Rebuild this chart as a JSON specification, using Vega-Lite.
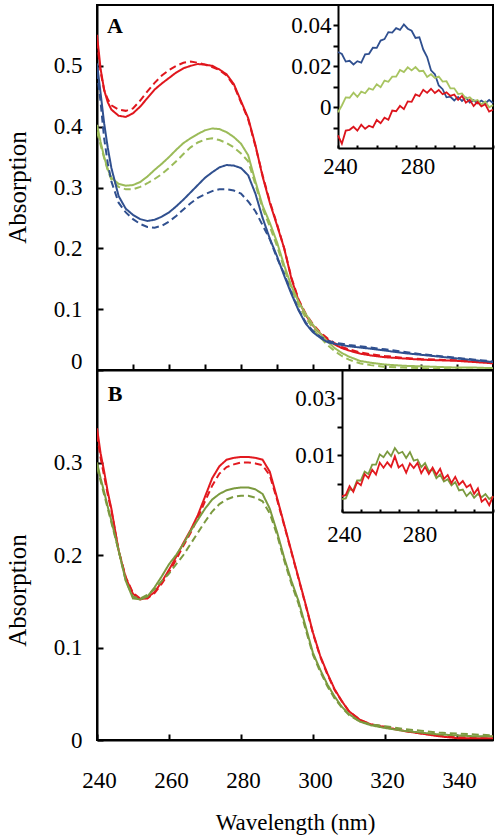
{
  "$schema": "https://vega.github.io/schema/vega-lite/v6.json",
  "autosize": "none",
  "padding": {"left": 97, "top": 5, "right": 403, "bottom": 833},
  "config": {
    "font": "Liberation Serif",
    "view": {"stroke": "black", "strokeWidth": 2},
    "axis": {"domainColor": "black", "domainWidth": 2, "tickColor": "black", "tickWidth": 2, "labelColor": "black", "titleColor": "black", "grid": false, "titleFontWeight": "normal", "labelFontSize": 23, "labelFont": "Liberation Serif", "titleFont": "Liberation Serif"}
  },
  "datasets": {
    "topMain": [
      {"w":240,"rs":0.551,"rd":0.54,"gs":0.403,"gd":0.392,"bs":0.504,"bd":0.49},
      {"w":241,"rs":0.495,"rd":0.49,"gs":0.375,"gd":0.37,"bs":0.455,"bd":0.44},
      {"w":242,"rs":0.46,"rd":0.46,"gs":0.35,"gd":0.348,"bs":0.405,"bd":0.38},
      {"w":243,"rs":0.44,"rd":0.445,"gs":0.33,"gd":0.328,"bs":0.365,"bd":0.34},
      {"w":244,"rs":0.428,"rd":0.435,"gs":0.316,"gd":0.313,"bs":0.332,"bd":0.31},
      {"w":246,"rs":0.418,"rd":0.428,"gs":0.306,"gd":0.301,"bs":0.286,"bd":0.275},
      {"w":248,"rs":0.416,"rd":0.426,"gs":0.303,"gd":0.297,"bs":0.265,"bd":0.259},
      {"w":250,"rs":0.422,"rd":0.43,"gs":0.304,"gd":0.297,"bs":0.255,"bd":0.248},
      {"w":252,"rs":0.433,"rd":0.443,"gs":0.309,"gd":0.301,"bs":0.248,"bd":0.24},
      {"w":254,"rs":0.447,"rd":0.458,"gs":0.318,"gd":0.307,"bs":0.245,"bd":0.235},
      {"w":256,"rs":0.461,"rd":0.472,"gs":0.329,"gd":0.314,"bs":0.247,"bd":0.234},
      {"w":258,"rs":0.471,"rd":0.484,"gs":0.339,"gd":0.322,"bs":0.252,"bd":0.237},
      {"w":260,"rs":0.48,"rd":0.493,"gs":0.35,"gd":0.332,"bs":0.259,"bd":0.244},
      {"w":262,"rs":0.489,"rd":0.5,"gs":0.362,"gd":0.343,"bs":0.269,"bd":0.253},
      {"w":264,"rs":0.496,"rd":0.505,"gs":0.373,"gd":0.355,"bs":0.28,"bd":0.264},
      {"w":266,"rs":0.5,"rd":0.507,"gs":0.381,"gd":0.366,"bs":0.292,"bd":0.274},
      {"w":268,"rs":0.503,"rd":0.505,"gs":0.388,"gd":0.374,"bs":0.304,"bd":0.283},
      {"w":270,"rs":0.502,"rd":0.502,"gs":0.394,"gd":0.379,"bs":0.316,"bd":0.289},
      {"w":272,"rs":0.5,"rd":0.498,"gs":0.397,"gd":0.381,"bs":0.325,"bd":0.294},
      {"w":274,"rs":0.494,"rd":0.493,"gs":0.396,"gd":0.378,"bs":0.333,"bd":0.297},
      {"w":276,"rs":0.486,"rd":0.484,"gs":0.391,"gd":0.373,"bs":0.337,"bd":0.297},
      {"w":278,"rs":0.47,"rd":0.468,"gs":0.383,"gd":0.366,"bs":0.336,"bd":0.295},
      {"w":280,"rs":0.442,"rd":0.44,"gs":0.372,"gd":0.356,"bs":0.332,"bd":0.29},
      {"w":282,"rs":0.414,"rd":0.412,"gs":0.353,"gd":0.343,"bs":0.32,"bd":0.277},
      {"w":284,"rs":0.37,"rd":0.368,"gs":0.31,"gd":0.305,"bs":0.29,"bd":0.261},
      {"w":286,"rs":0.318,"rd":0.32,"gs":0.27,"gd":0.266,"bs":0.25,"bd":0.238},
      {"w":288,"rs":0.275,"rd":0.277,"gs":0.242,"gd":0.236,"bs":0.216,"bd":0.215},
      {"w":290,"rs":0.238,"rd":0.24,"gs":0.21,"gd":0.204,"bs":0.187,"bd":0.184},
      {"w":292,"rs":0.2,"rd":0.2,"gs":0.172,"gd":0.167,"bs":0.155,"bd":0.158},
      {"w":294,"rs":0.15,"rd":0.152,"gs":0.138,"gd":0.133,"bs":0.125,"bd":0.127},
      {"w":296,"rs":0.114,"rd":0.116,"gs":0.112,"gd":0.106,"bs":0.098,"bd":0.099},
      {"w":298,"rs":0.09,"rd":0.092,"gs":0.092,"gd":0.086,"bs":0.076,"bd":0.078},
      {"w":300,"rs":0.073,"rd":0.075,"gs":0.074,"gd":0.068,"bs":0.062,"bd":0.064},
      {"w":302,"rs":0.06,"rd":0.062,"gs":0.06,"gd":0.054,"bs":0.053,"bd":0.055},
      {"w":304,"rs":0.05,"rd":0.052,"gs":0.047,"gd":0.041,"bs":0.046,"bd":0.048},
      {"w":306,"rs":0.042,"rd":0.044,"gs":0.036,"gd":0.031,"bs":0.043,"bd":0.045},
      {"w":308,"rs":0.036,"rd":0.038,"gs":0.028,"gd":0.023,"bs":0.041,"bd":0.043},
      {"w":310,"rs":0.032,"rd":0.034,"gs":0.022,"gd":0.017,"bs":0.039,"bd":0.041},
      {"w":313,"rs":0.027,"rd":0.029,"gs":0.015,"gd":0.011,"bs":0.037,"bd":0.039},
      {"w":316,"rs":0.024,"rd":0.026,"gs":0.012,"gd":0.008,"bs":0.035,"bd":0.037},
      {"w":320,"rs":0.021,"rd":0.023,"gs":0.009,"gd":0.005,"bs":0.032,"bd":0.034},
      {"w":325,"rs":0.019,"rd":0.02,"gs":0.007,"gd":0.004,"bs":0.028,"bd":0.03},
      {"w":330,"rs":0.017,"rd":0.018,"gs":0.006,"gd":0.003,"bs":0.025,"bd":0.026},
      {"w":335,"rs":0.016,"rd":0.017,"gs":0.005,"gd":0.002,"bs":0.022,"bd":0.023},
      {"w":340,"rs":0.015,"rd":0.016,"gs":0.004,"gd":0.001,"bs":0.019,"bd":0.02},
      {"w":345,"rs":0.013,"rd":0.015,"gs":0.004,"gd":0.001,"bs":0.016,"bd":0.017},
      {"w":350,"rs":0.011,"rd":0.013,"gs":0.003,"gd":0.0,"bs":0.013,"bd":0.014}
    ],
    "topInset": [
      {"w":240,"b":0.027,"g":-0.0025,"r":-0.0138},
      {"w":242,"b":0.026,"g":0.0008,"r":-0.0179},
      {"w":244,"b":0.0223,"g":0.0048,"r":-0.0115},
      {"w":246,"b":0.0227,"g":0.0046,"r":-0.0111},
      {"w":248,"b":0.0209,"g":0.0071,"r":-0.0096},
      {"w":250,"b":0.0225,"g":0.005,"r":-0.0115},
      {"w":252,"b":0.0218,"g":0.0076,"r":-0.0086},
      {"w":254,"b":0.0258,"g":0.0068,"r":-0.0106},
      {"w":256,"b":0.0261,"g":0.0092,"r":-0.0091},
      {"w":258,"b":0.0291,"g":0.0085,"r":-0.0099},
      {"w":260,"b":0.029,"g":0.0112,"r":-0.0063},
      {"w":262,"b":0.0326,"g":0.0098,"r":-0.0079},
      {"w":264,"b":0.0333,"g":0.013,"r":-0.0052},
      {"w":266,"b":0.0367,"g":0.0124,"r":-0.0062},
      {"w":268,"b":0.0365,"g":0.0149,"r":-0.0017},
      {"w":270,"b":0.0387,"g":0.0149,"r":-0.002},
      {"w":272,"b":0.0378,"g":0.0182,"r":0.0006},
      {"w":274,"b":0.0405,"g":0.0172,"r":-0.001},
      {"w":276,"b":0.0384,"g":0.0195,"r":0.0028},
      {"w":278,"b":0.0374,"g":0.018,"r":0.0026},
      {"w":280,"b":0.0339,"g":0.0196,"r":0.0062},
      {"w":282,"b":0.0342,"g":0.0176,"r":0.0054},
      {"w":284,"b":0.0282,"g":0.0178,"r":0.0085},
      {"w":286,"b":0.0245,"g":0.0148,"r":0.007},
      {"w":288,"b":0.018,"g":0.0161,"r":0.009},
      {"w":290,"b":0.0161,"g":0.0143,"r":0.0069},
      {"w":292,"b":0.0106,"g":0.015,"r":0.0084},
      {"w":294,"b":0.0088,"g":0.0125,"r":0.0063},
      {"w":296,"b":0.0048,"g":0.0127,"r":0.0072},
      {"w":298,"b":0.0051,"g":0.0092,"r":0.0055},
      {"w":300,"b":0.0033,"g":0.0092,"r":0.0062},
      {"w":302,"b":0.005,"g":0.0064,"r":0.0036},
      {"w":304,"b":0.003,"g":0.0067,"r":0.0055},
      {"w":306,"b":0.0047,"g":0.0042,"r":0.0022},
      {"w":308,"b":0.0022,"g":0.0048,"r":0.0036},
      {"w":310,"b":0.0034,"g":0.003,"r":0.0005},
      {"w":312,"b":0.0019,"g":0.0035,"r":0.0026},
      {"w":314,"b":0.0032,"g":0.0013,"r":0.0004},
      {"w":316,"b":0.0019,"g":0.0027,"r":0.0014},
      {"w":318,"b":0.0035,"g":-0.0001,"r":-0.0022},
      {"w":320,"b":0.002,"g":0.001,"r":-0.0013}
    ],
    "botMain": [
      {"w":240,"rs":0.337,"rd":0.33,"gs":0.3,"gd":0.295},
      {"w":241,"rs":0.31,"rd":0.305,"gs":0.283,"gd":0.28},
      {"w":242,"rs":0.29,"rd":0.285,"gs":0.268,"gd":0.265},
      {"w":243,"rs":0.268,"rd":0.265,"gs":0.252,"gd":0.25},
      {"w":244,"rs":0.25,"rd":0.248,"gs":0.237,"gd":0.235},
      {"w":246,"rs":0.205,"rd":0.205,"gs":0.205,"gd":0.205},
      {"w":248,"rs":0.175,"rd":0.176,"gs":0.172,"gd":0.172},
      {"w":250,"rs":0.158,"rd":0.159,"gs":0.153,"gd":0.155},
      {"w":252,"rs":0.152,"rd":0.153,"gs":0.152,"gd":0.153},
      {"w":254,"rs":0.154,"rd":0.153,"gs":0.155,"gd":0.157},
      {"w":256,"rs":0.16,"rd":0.159,"gs":0.165,"gd":0.163},
      {"w":258,"rs":0.171,"rd":0.169,"gs":0.177,"gd":0.172},
      {"w":260,"rs":0.184,"rd":0.181,"gs":0.19,"gd":0.18},
      {"w":262,"rs":0.198,"rd":0.195,"gs":0.2,"gd":0.19},
      {"w":264,"rs":0.213,"rd":0.21,"gs":0.212,"gd":0.2},
      {"w":266,"rs":0.227,"rd":0.224,"gs":0.226,"gd":0.212},
      {"w":268,"rs":0.243,"rd":0.24,"gs":0.238,"gd":0.224},
      {"w":270,"rs":0.263,"rd":0.258,"gs":0.25,"gd":0.236},
      {"w":272,"rs":0.283,"rd":0.275,"gs":0.26,"gd":0.247},
      {"w":274,"rs":0.296,"rd":0.288,"gs":0.266,"gd":0.255},
      {"w":276,"rs":0.303,"rd":0.295,"gs":0.27,"gd":0.26},
      {"w":278,"rs":0.305,"rd":0.298,"gs":0.272,"gd":0.263},
      {"w":280,"rs":0.306,"rd":0.3,"gs":0.273,"gd":0.264},
      {"w":282,"rs":0.306,"rd":0.3,"gs":0.273,"gd":0.264},
      {"w":284,"rs":0.305,"rd":0.299,"gs":0.271,"gd":0.262},
      {"w":286,"rs":0.303,"rd":0.297,"gs":0.266,"gd":0.258},
      {"w":288,"rs":0.29,"rd":0.286,"gs":0.25,"gd":0.245},
      {"w":290,"rs":0.262,"rd":0.26,"gs":0.225,"gd":0.222},
      {"w":292,"rs":0.233,"rd":0.232,"gs":0.197,"gd":0.194},
      {"w":294,"rs":0.204,"rd":0.203,"gs":0.172,"gd":0.169},
      {"w":296,"rs":0.175,"rd":0.174,"gs":0.15,"gd":0.147},
      {"w":298,"rs":0.146,"rd":0.145,"gs":0.122,"gd":0.119},
      {"w":300,"rs":0.116,"rd":0.115,"gs":0.094,"gd":0.092},
      {"w":302,"rs":0.091,"rd":0.09,"gs":0.076,"gd":0.074},
      {"w":304,"rs":0.072,"rd":0.071,"gs":0.06,"gd":0.058},
      {"w":306,"rs":0.055,"rd":0.054,"gs":0.047,"gd":0.045},
      {"w":308,"rs":0.042,"rd":0.042,"gs":0.036,"gd":0.035},
      {"w":310,"rs":0.031,"rd":0.031,"gs":0.028,"gd":0.027},
      {"w":313,"rs":0.022,"rd":0.022,"gs":0.02,"gd":0.02},
      {"w":316,"rs":0.017,"rd":0.017,"gs":0.016,"gd":0.017},
      {"w":320,"rs":0.014,"rd":0.014,"gs":0.013,"gd":0.015},
      {"w":325,"rs":0.01,"rd":0.01,"gs":0.01,"gd":0.012},
      {"w":330,"rs":0.007,"rd":0.007,"gs":0.008,"gd":0.01},
      {"w":335,"rs":0.004,"rd":0.005,"gs":0.006,"gd":0.008},
      {"w":340,"rs":0.002,"rd":0.003,"gs":0.005,"gd":0.007},
      {"w":345,"rs":0.002,"rd":0.003,"gs":0.004,"gd":0.006},
      {"w":350,"rs":0.002,"rd":0.004,"gs":0.004,"gd":0.005}
    ],
    "botInset": [
      {"w":240,"o":-0.0055,"r":-0.0045},
      {"w":242,"o":-0.0052,"r":-0.004},
      {"w":244,"o":-0.002,"r":-0.0009},
      {"w":246,"o":-0.0023,"r":-0.0029},
      {"w":248,"o":0.0011,"r":0.0005},
      {"w":250,"o":0.0011,"r":-0.0006},
      {"w":252,"o":0.0042,"r":0.0033},
      {"w":254,"o":0.0034,"r":0.0019},
      {"w":256,"o":0.0067,"r":0.0049},
      {"w":258,"o":0.0067,"r":0.0032},
      {"w":260,"o":0.0103,"r":0.0074},
      {"w":262,"o":0.0093,"r":0.0056},
      {"w":264,"o":0.0113,"r":0.0075},
      {"w":266,"o":0.0097,"r":0.0059},
      {"w":268,"o":0.0125,"r":0.0096},
      {"w":270,"o":0.0106,"r":0.0057},
      {"w":272,"o":0.0112,"r":0.0067},
      {"w":274,"o":0.009,"r":0.0038},
      {"w":276,"o":0.0111,"r":0.0071},
      {"w":278,"o":0.0081,"r":0.0055},
      {"w":280,"o":0.0085,"r":0.0073},
      {"w":282,"o":0.0058,"r":0.0037},
      {"w":284,"o":0.0072,"r":0.0059},
      {"w":286,"o":0.0044,"r":0.0034},
      {"w":288,"o":0.0049,"r":0.0056},
      {"w":290,"o":0.0019,"r":0.0031},
      {"w":292,"o":0.0032,"r":0.0052},
      {"w":294,"o":0.0007,"r":0.0017},
      {"w":296,"o":0.0015,"r":0.003},
      {"w":298,"o":-0.0006,"r":0.0002},
      {"w":300,"o":0.0005,"r":0.0024},
      {"w":302,"o":-0.0024,"r":-0.0004},
      {"w":304,"o":-0.0021,"r":0.0009},
      {"w":306,"o":-0.0044,"r":-0.0013},
      {"w":308,"o":-0.003,"r":-0.0004},
      {"w":310,"o":-0.005,"r":-0.0036},
      {"w":312,"o":-0.0036,"r":-0.0017},
      {"w":314,"o":-0.0048,"r":-0.0064},
      {"w":316,"o":-0.0037,"r":-0.0053},
      {"w":318,"o":-0.0054,"r":-0.0076},
      {"w":320,"o":-0.0045,"r":-0.0044}
    ]
  },
  "spacing": 0,
  "bounds": "flush",
  "vconcat": [
    {
      "width": 396,
      "height": 365,
      "layer": [
        {
          "layer": [
            {
              "data": {"name": "topMain"},
              "transform": [{"fold": ["rs", "rd", "gs", "gd", "bs", "bd"], "as": ["k", "a"]}],
              "mark": {"type": "line", "strokeWidth": 2, "clip": true},
              "encoding": {
                "x": {"field": "w", "type": "quantitative", "scale": {"domain": [240, 350], "nice": false, "zero": false},
                  "axis": {"title": null, "labels": false, "values": [250, 260, 270, 280, 290, 300, 310, 320, 330, 340], "tickSize": -6}},
                "y": {"field": "a", "type": "quantitative", "scale": {"domain": [0, 0.6], "nice": false},
                  "axis": {"title": "Absorption", "titleFontSize": 25, "titleX": -80, "titleY": 182, "titleBaseline": "middle",
                    "values": [0, 0.1, 0.2, 0.3, 0.4, 0.5], "format": "~g", "tickSize": -6, "labelPadding": 21,
                    "labelOffset": {"condition": {"test": "datum.value === 0", "value": -9}, "value": 0}}},
                "color": {"field": "k", "type": "nominal", "legend": null,
                  "scale": {"domain": ["rs", "rd", "gs", "gd", "bs", "bd"], "range": ["#e0161d", "#e0161d", "#9bbb59", "#9bbb59", "#30508f", "#30508f"]}},
                "strokeDash": {"field": "k", "type": "nominal", "legend": null,
                  "scale": {"domain": ["rs", "rd", "gs", "gd", "bs", "bd"], "range": [[1, 0], [7, 4], [1, 0], [7, 4], [1, 0], [7, 4]]}}
              }
            },
            {
              "data": {"values": [{"p": "A"}]},
              "mark": {"type": "text", "align": "left", "baseline": "alphabetic", "fontSize": 22, "fontWeight": "bold", "color": "black"},
              "encoding": {
                "x": {"datum": 242.8, "type": "quantitative"},
                "y": {"datum": 0.554, "type": "quantitative"},
                "text": {"field": "p"}
              }
            }
          ]
        },
        {
          "data": {"name": "topInset"},
          "transform": [{"fold": ["b", "g", "r"], "as": ["k", "a"]}],
          "mark": {"type": "line", "strokeWidth": 1.8},
          "encoding": {
            "x": {"field": "w", "type": "quantitative", "scale": {"domain": [240, 320], "range": [241, 396], "nice": false, "zero": false},
              "axis": {"orient": "bottom", "offset": -222, "title": null, "values": [240, 250, 260, 270, 280, 290, 300, 310, 320],
                "labelExpr": "datum.value === 240 || datum.value === 280 ? datum.label : ''", "tickSize": -3, "labelPadding": 21,
                "labelBaseline": "middle", "labelFlush": false, "labelOverlap": false, "labelOffset": 2}},
            "y": {"field": "a", "type": "quantitative", "scale": {"domain": [-0.02, 0.05], "range": [143, 0], "nice": false, "zero": false},
              "axis": {"orient": "left", "offset": -241, "title": null, "values": [-0.01, 0, 0.01, 0.02, 0.03, 0.04], "format": "~g",
                "labelExpr": "datum.value === 0 || datum.value === 0.02 || datum.value === 0.04 ? datum.label : ''", "tickSize": 5, "labelPadding": 2}},
            "color": {"field": "k", "type": "nominal", "legend": null,
              "scale": {"domain": ["b", "g", "r"], "range": ["#2f4f8f", "#a7c460", "#dc141c"]}}
          }
        }
      ],
      "resolve": {"scale": {"x": "independent", "y": "independent", "color": "independent"}, "axis": {"x": "independent", "y": "independent"}}
    },
    {
      "width": 396,
      "height": 370,
      "layer": [
        {
          "layer": [
            {
              "data": {"name": "botMain"},
              "transform": [{"fold": ["rs", "rd", "gs", "gd"], "as": ["k", "a"]}],
              "mark": {"type": "line", "strokeWidth": 2, "clip": true},
              "encoding": {
                "x": {"field": "w", "type": "quantitative", "scale": {"domain": [240, 350], "nice": false, "zero": false},
                  "axis": {"title": "Wavelength (nm)", "titleFontSize": 23, "titleY": 82, "titleBaseline": "middle",
                    "values": [240, 250, 260, 270, 280, 290, 300, 310, 320, 330, 340],
                    "labelExpr": "datum.value % 20 === 0 ? datum.label : ''", "tickSize": -6, "labelPadding": 46,
                    "labelBaseline": "middle", "labelFlush": false, "labelOverlap": false, "labelOffset": 2}},
                "y": {"field": "a", "type": "quantitative", "scale": {"domain": [0, 0.4], "nice": false},
                  "axis": {"title": "Absorption", "titleFontSize": 25, "titleX": -80, "titleY": 220, "titleBaseline": "middle",
                    "values": [0, 0.1, 0.2, 0.3], "format": "~g", "tickSize": -6, "labelPadding": 21}},
                "color": {"field": "k", "type": "nominal", "legend": null,
                  "scale": {"domain": ["rs", "rd", "gs", "gd"], "range": ["#e2191f", "#e2191f", "#7b9a3f", "#7b9a3f"]}},
                "strokeDash": {"field": "k", "type": "nominal", "legend": null,
                  "scale": {"domain": ["rs", "rd", "gs", "gd"], "range": [[1, 0], [7, 4], [1, 0], [7, 4]]}}
              }
            },
            {
              "data": {"values": [{"p": "B"}]},
              "mark": {"type": "text", "align": "left", "baseline": "alphabetic", "fontSize": 22, "fontWeight": "bold", "color": "black"},
              "encoding": {
                "x": {"datum": 243, "type": "quantitative"},
                "y": {"datum": 0.3665, "type": "quantitative"},
                "text": {"field": "p"}
              }
            }
          ]
        },
        {
          "data": {"name": "botInset"},
          "transform": [{"fold": ["o", "r"], "as": ["k", "a"]}],
          "mark": {"type": "line", "strokeWidth": 1.8},
          "encoding": {
            "x": {"field": "w", "type": "quantitative", "scale": {"domain": [240, 320], "range": [245, 396], "nice": false, "zero": false},
              "axis": {"orient": "bottom", "offset": -228, "title": null, "values": [240, 250, 260, 270, 280, 290, 300, 310, 320],
                "labelExpr": "datum.value === 240 || datum.value === 280 ? datum.label : ''", "tickSize": -3, "labelPadding": 25,
                "labelBaseline": "middle", "labelFlush": false, "labelOverlap": false, "labelOffset": 2}},
            "y": {"field": "a", "type": "quantitative", "scale": {"domain": [-0.01, 0.04], "range": [142, 0], "nice": false, "zero": false},
              "axis": {"orient": "left", "offset": -245, "title": null, "values": [0, 0.01, 0.02, 0.03], "format": ".2f",
                "labelExpr": "datum.value === 0.01 || datum.value === 0.03 ? datum.label : ''", "tickSize": 5, "labelPadding": 2}},
            "color": {"field": "k", "type": "nominal", "legend": null,
              "scale": {"domain": ["o", "r"], "range": ["#7b9a3f", "#e2191f"]}}
          }
        }
      ],
      "resolve": {"scale": {"x": "independent", "y": "independent", "color": "independent"}, "axis": {"x": "independent", "y": "independent"}}
    }
  ]
}
